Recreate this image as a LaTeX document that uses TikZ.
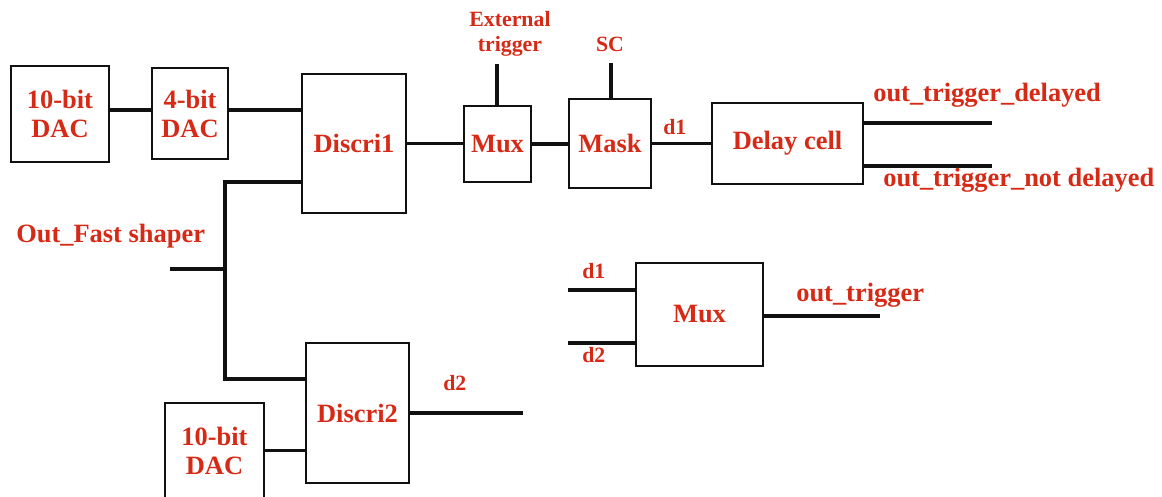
\documentclass[tikz,border=0pt]{standalone}
\usepackage{fontspec}
\setmainfont{Liberation Serif}
\usepackage{tikz}
\usetikzlibrary{positioning,calc}
\definecolor{Ink}{HTML}{111111}
\definecolor{Label}{HTML}{D62A16}
\tikzset{
  blk/.style={rectangle,draw=Ink,line width=1.9pt,fill=white,inner sep=0pt,align=center,text=Label,font=\bfseries\fontsize{18.8}{20.6}\selectfont},
  lab/.style={text=Label,inner sep=0pt,font=\bfseries\fontsize{18.8}{20.6}\selectfont},
  tinylab/.style={lab,align=center,font=\bfseries\fontsize{15.5}{17.8}\selectfont},
  wire/.style={draw=Ink,line width=2.3pt},
  bus/.style={wire,line width=2.9pt}
}
\begin{document}
\begin{tikzpicture}[x=0.025cm,y=-0.025cm]
        \path[fill=white,use as bounding box] (0,0) rectangle (1162,497);
        \node[blk,minimum width=2.45cm,minimum height=2.4cm] (dacA) at (60,114) {10-bit\\DAC};
        \node[blk,minimum width=1.9cm,minimum height=2.275cm] (dacB) at (190,113.5) {4-bit\\DAC};
        \node[blk,minimum width=2.6cm,minimum height=3.475cm] (discA) at (354,143.5) {Discri1};
        \node[blk,minimum width=1.675cm,minimum height=1.9cm] (muxA) at (497.5,144) {Mux};
        \node[blk,minimum width=2.05cm,minimum height=2.225cm] (mask) at (610,143.5) {Mask};
        \node[blk,minimum width=3.775cm,minimum height=2.025cm] (delay) at (787.5,143.5) {Delay cell};
        \node[blk,minimum width=2.575cm,minimum height=3.5cm] (discB) at (357.5,413) {Discri2};
        \node[blk,minimum width=2.475cm,minimum height=2.375cm] (dacC) at (214.5,450.5) {10-bit\\DAC};
        \node[blk,minimum width=3.175cm,minimum height=2.575cm] (muxB) at (699.5,314.5) {Mux};
        \coordinate (refA) at (0,110); \coordinate (refB) at (0,182); \coordinate (refC) at (0,379);
        \coordinate (tap) at (225,269); \coordinate (fsin) at (170,269);
        \coordinate (extin) at (497,64); \coordinate (scin) at (611,63);
        \coordinate (outD) at (992,123); \coordinate (outN) at (992,166);
        \coordinate (d2out) at (523,413); \coordinate (trigout) at (880,316);
        \coordinate (d1in) at (568,290); \coordinate (d2in) at (568,343);
        \draw[wire] (dacA.east |- refA)--(dacB.west |- refA);
        \draw[bus] (dacB.east |- refA)--(discA.west |- refA);
        \draw[bus] (discA.west |- refB) -| (tap) |- (discB.west |- refC);
        \draw[bus] (fsin)--(tap);
        \draw[wire] (discA.east)--(discA.east -| muxA.west);
        \draw[wire] (muxA.east)--(muxA.east -| mask.west);
        \draw[wire] (mask.east)--(mask.east -| delay.west);
        \draw[wire] (extin)--(extin |- muxA.north);
        \draw[wire] (scin)--(scin |- mask.north);
        \draw[bus] (delay.east |- outD)--(outD);
        \draw[bus] (delay.east |- outN)--(outN);
        \draw[bus] (discB.east)--(d2out);
        \draw[wire] (dacC.east)--(dacC.east -| discB.west);
        \draw[bus] (d1in)--(d1in -| muxB.west);
        \draw[bus] (d2in)--(d2in -| muxB.west);
        \draw[bus] (muxB.east |- trigout)--(trigout);
        \node[tinylab,anchor=base] (extlab) at (510,52) {External\\trigger};
        \node[tinylab,anchor=base] (sclab) at (610,52) {SC};
        \node[tinylab,anchor=base west] (d1lab) at (663,135) {d1};
        \node[lab,anchor=base west] (dlylab) at (873,102) {out\_trigger\_delayed};
        \node[lab,anchor=base west] (ndlylab) at (883,187) {out\_trigger\_not delayed};
        \node[lab,anchor=base west] (fslab) at (16,243) {Out\_Fast shaper};
        \node[tinylab,anchor=base west] (d1mux) at (582,279) {d1};
        \node[tinylab,anchor=base west] (d2mux) at (582,362) {d2};
        \node[lab,anchor=base west] (trglab) at (796,302) {out\_trigger};
        \node[tinylab,anchor=base west] (d2lab) at (443,390) {d2};
      \end{tikzpicture}
\end{document}
